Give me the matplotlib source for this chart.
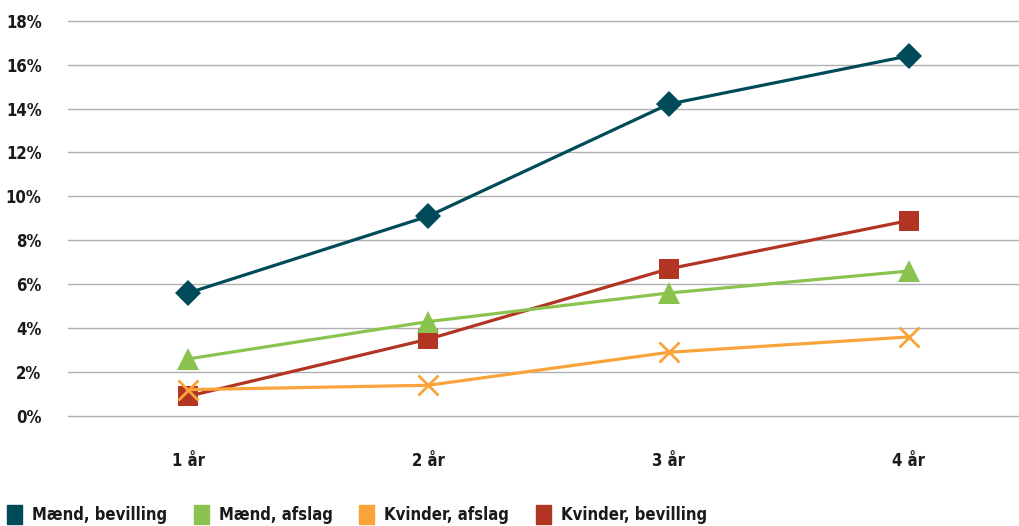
import matplotlib.pyplot as plt
from matplotlib.patches import Patch
from matplotlib.ticker import FuncFormatter

years = ['1 år', '2 år', '3 år', '4 år']
maend_bevilling = [5.6, 9.1, 14.2, 16.4]
maend_afslag = [2.6, 4.3, 5.6, 6.6]
kvinder_afslag = [1.2, 1.4, 2.9, 3.6]
kvinder_bevilling = [0.9, 3.5, 6.7, 8.9]

c_mb = '#004b5a'
c_ma = '#8bc34f'
c_ka = '#f9a43a'
c_kb = '#b23524'

fig = plt.figure(figsize=(10.19, 5.26), dpi=100)
ax = fig.add_axes([68 / 1019, 1 - 416 / 526, 1 - 68 / 1019, (416 - 20.7) / 526])

x = range(len(years))
ax.plot(x, kvinder_bevilling, color=c_kb, lw=2.3, marker='s', ms=15, mew=0, zorder=3)
ax.plot(x, maend_afslag, color=c_ma, lw=2.3, marker='^', ms=16, mew=0, zorder=4)
ax.plot(x, kvinder_afslag, color=c_ka, lw=2.3, marker='x', ms=15, mew=2, zorder=5)
ax.plot(x, maend_bevilling, color=c_mb, lw=2.3, marker='D', ms=13, mew=0, zorder=6)

ax.set_ylim(0, 18)
ax.set_xlim(-0.5, 3.5 - 10 / 240)
ax.set_yticks(range(0, 19, 2))
ax.yaxis.set_major_formatter(FuncFormatter(lambda v, p: f'{v:.0f}%'))
ax.set_xticks(list(x))
ax.set_xticklabels(years)
ax.grid(axis='y', color='#b0b0b0', lw=1.0)
for gl in ax.get_ygridlines():
    gl.set_clip_on(False)
ax.set_axisbelow(True)
for s in ax.spines.values():
    s.set_visible(False)
ax.tick_params(length=0, labelsize=12)
ax.tick_params(axis='y', pad=19)
ax.tick_params(axis='x', pad=26)
for lab in ax.get_xticklabels() + ax.get_yticklabels():
    lab.set_fontfamily('DejaVu Sans')
    lab.set_fontstretch('condensed')
    lab.set_fontweight('bold')
    lab.set_color('#1a1a1a')

handles = [Patch(color=c_mb), Patch(color=c_ma), Patch(color=c_ka), Patch(color=c_kb)]
labels = ['Mænd, bevilling', 'Mænd, afslag', 'Kvinder, afslag', 'Kvinder, bevilling']
leg = fig.legend(handles, labels, loc='upper left', bbox_to_anchor=(0.007, 1 - 505 / 526),
                 ncol=4, frameon=False, handlelength=0.9, handleheight=1.4,
                 handletextpad=0.6, columnspacing=1.6, borderaxespad=0, borderpad=0,
                 prop=dict(family='DejaVu Sans', stretch='condensed', weight='bold', size=12))
for t in leg.get_texts():
    t.set_color('#1a1a1a')

fig.savefig('out.png', dpi=100)
